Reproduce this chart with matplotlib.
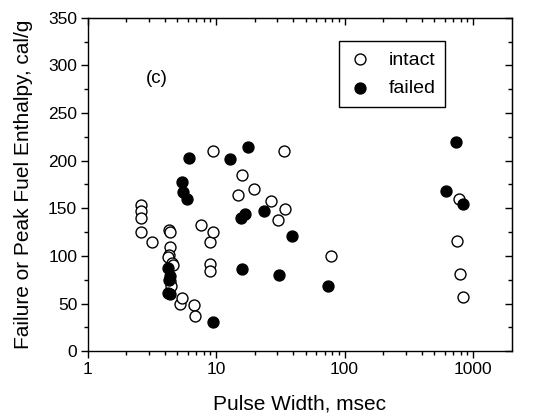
import matplotlib
matplotlib.use("Agg")
import matplotlib.pyplot as plt
from matplotlib.ticker import FixedLocator, MultipleLocator, NullFormatter

plt.rcParams['font.family'] = ['Liberation Sans', 'DejaVu Sans']

intact_x = [2.6, 2.6, 2.6, 2.6, 3.15, 4.3, 4.35, 4.4, 4.3, 4.2, 4.55, 4.6, 4.4, 4.45,
            5.2, 5.45, 6.7, 6.85, 7.6, 8.9, 8.9, 8.9, 9.4, 9.4, 14.8, 16.0, 19.7, 26.8,
            30.5, 34.5, 33.7, 78.5, 750, 780, 785, 840]
intact_y = [153, 147, 140, 125, 115, 127, 125, 109, 101, 99, 93, 90, 74, 68,
            50, 56, 48, 37, 132, 115, 92, 84, 125, 210, 164, 185, 170, 158,
            138, 149, 210, 100, 116, 160, 81, 57]

failed_x = [6.1, 5.4, 5.5, 5.9, 4.2, 4.35, 4.3, 4.2, 4.4, 9.4, 12.8, 17.7, 15.7, 16.9,
            23.6, 39.2, 15.9, 30.6, 74, 620, 740, 830]
failed_y = [203, 178, 167, 160, 87, 79, 75, 61, 60, 31, 202, 214, 140, 144,
            147, 121, 86, 80, 68, 168, 220, 154]

x_ticks = [1, 10, 100, 1000]
x_tick_labels = ["1", "10", "100", "1000"]
y_ticks = [0, 50, 100, 150, 200, 250, 300, 350]

fig = plt.figure(figsize=(5.41, 4.16), dpi=100)
ax = fig.add_axes([0.162, 0.156, 0.784, 0.801])

ax.scatter(intact_x, intact_y, s=62, facecolors='white', edgecolors='black',
           linewidths=1.0, zorder=3, label='intact')
ax.scatter(failed_x, failed_y, s=62, facecolors='black', edgecolors='black',
           linewidths=1.0, zorder=4, label='failed')

minor_x = [m * 10**e for e in range(0, 4) for m in range(2, 10) if m * 10**e < 2000]

ax.set_xscale('log')
ax.set_xlim(1, 2000)
ax.set_ylim(0, 350)
ax.xaxis.set_major_locator(FixedLocator(x_ticks))
ax.set_xticklabels(x_tick_labels)
ax.xaxis.set_minor_locator(FixedLocator(minor_x))
ax.xaxis.set_minor_formatter(NullFormatter())
ax.yaxis.set_major_locator(FixedLocator(y_ticks))
ax.yaxis.set_minor_locator(MultipleLocator(25))

for s in ax.spines.values():
    s.set_linewidth(1.0)

ax.tick_params(which='both', direction='out', top=False, right=False, labelsize=12.5,
               width=1.0, pad=2.5)
ax.tick_params(which='major', length=5)
ax.tick_params(which='minor', length=3)

ax2 = ax.secondary_xaxis('top')
ax2.xaxis.set_major_locator(FixedLocator(x_ticks))
ax2.xaxis.set_minor_locator(FixedLocator(minor_x))
ax2.tick_params(which='both', direction='in', labeltop=False, width=1.0)
ax2.tick_params(which='major', length=5)
ax2.tick_params(which='minor', length=3)
ax3 = ax.secondary_yaxis('right')
ax3.yaxis.set_major_locator(FixedLocator(y_ticks))
ax3.yaxis.set_minor_locator(MultipleLocator(25))
ax3.tick_params(which='both', direction='in', labelright=False, width=1.0)
ax3.tick_params(which='major', length=5)
ax3.tick_params(which='minor', length=3)

ax.set_xlabel("Pulse Width, msec", fontsize=15, labelpad=13)
ax.set_ylabel("Failure or Peak Fuel Enthalpy, cal/g", fontsize=15, labelpad=11)

ax.text(3.44, 286, "(c)", fontsize=13.5, ha='center', va='center')

leg = ax.legend(loc='upper left', bbox_to_anchor=(0.592, 0.930), fontsize=14,
                frameon=True, fancybox=False, edgecolor='black', framealpha=1,
                borderpad=0.5, handletextpad=0.85, labelspacing=0.55, borderaxespad=0,
                handlelength=1.2)
leg.get_frame().set_linewidth(1.0)

fig.savefig("out.png", dpi=100)
